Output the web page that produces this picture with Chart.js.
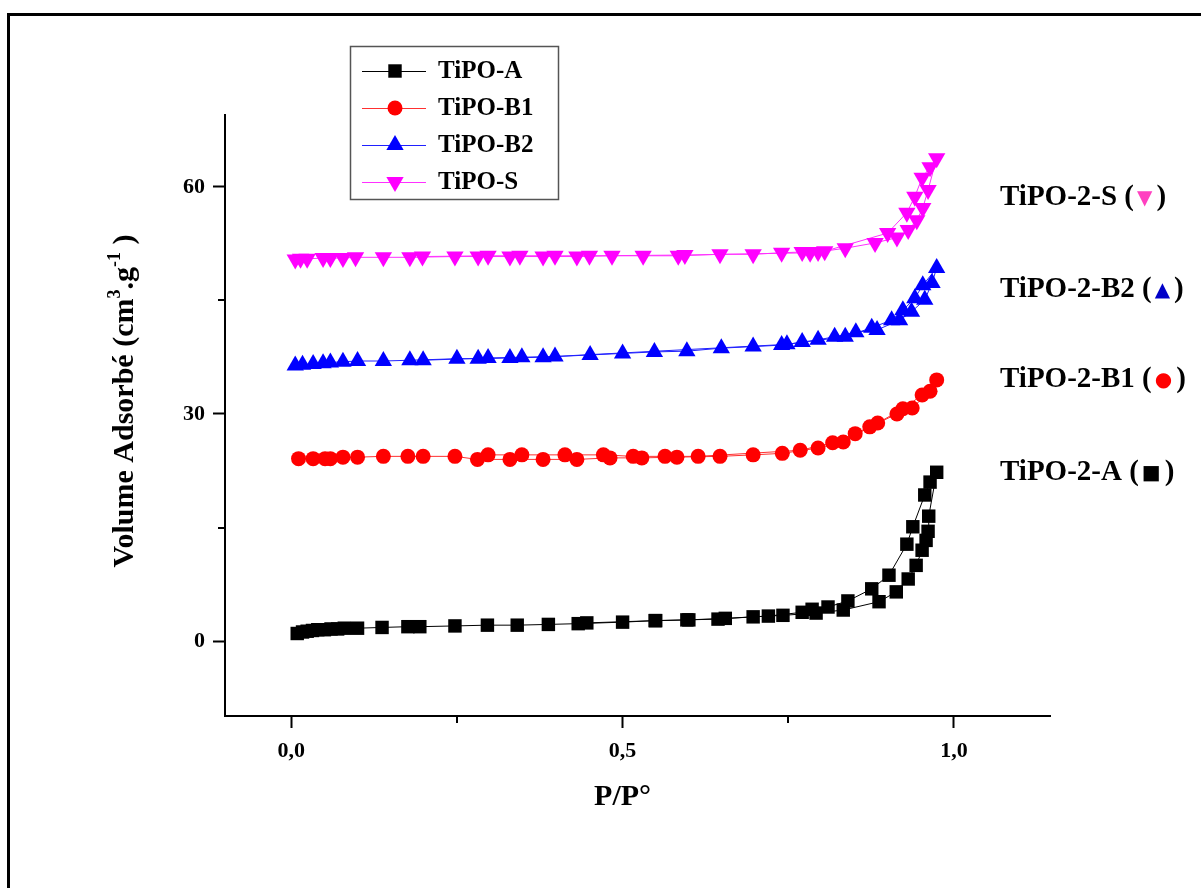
<!DOCTYPE html>
<html>
<head>
<meta charset="utf-8">
<script src="https://cdn.jsdelivr.net/npm/chart.js@4.4.1/dist/chart.umd.min.js"></script>
<style>
    html, body { margin: 0; padding: 0; background: #fff; }
    #wrap { width: 1201px; height: 888px; }
</style>
</head>
<body>
<div id="wrap"><canvas id="isoChart" width="1201" height="888"></canvas></div>
<script>
// Isotherm points, in measuring order (adsorption up, then desorption back)
const pA = [0.009, 0.017, 0.024, 0.032, 0.04, 0.05, 0.06, 0.07, 0.08, 0.1, 0.137, 0.176, 0.194, 0.247, 0.296, 0.341, 0.388, 0.433, 0.5, 0.549, 0.597, 0.644, 0.697, 0.742, 0.792, 0.833, 0.887, 0.913, 0.931, 0.943, 0.952, 0.958, 0.961, 0.962, 0.974,
            0.964, 0.956, 0.938, 0.929, 0.902, 0.876, 0.84, 0.81, 0.786, 0.771, 0.72, 0.655, 0.6, 0.55, 0.446];
const vA = [1.0, 1.2, 1.3, 1.4, 1.5, 1.5, 1.6, 1.6, 1.7, 1.7, 1.8, 1.9, 1.9, 2.0, 2.1, 2.1, 2.2, 2.3, 2.5, 2.7, 2.8, 2.9, 3.2, 3.4, 3.7, 4.1, 5.2, 6.5, 8.2, 10.0, 12.0, 13.3, 14.5, 16.5, 22.3,
            21.0, 19.3, 15.1, 12.8, 8.7, 6.9, 5.3, 4.5, 4.2, 3.8, 3.3, 3.0, 2.8, 2.7, 2.4];

const pB1 = [0.011, 0.033, 0.051, 0.059, 0.078, 0.1, 0.139, 0.176, 0.199, 0.247, 0.281, 0.33, 0.38, 0.431, 0.481, 0.529, 0.582, 0.647, 0.697, 0.741, 0.795, 0.833, 0.873, 0.914, 0.937, 0.964, 0.974,
             0.952, 0.923, 0.885, 0.851, 0.817, 0.768, 0.614, 0.564, 0.516, 0.471, 0.413, 0.348, 0.297];
const vB1 = [24.1, 24.1, 24.1, 24.1, 24.3, 24.3, 24.4, 24.4, 24.4, 24.4, 24.0, 24.0, 24.0, 24.0, 24.2, 24.2, 24.3, 24.4, 24.6, 24.8, 25.5, 26.3, 28.3, 30.0, 30.8, 33.0, 34.5,
             32.5, 30.7, 28.8, 27.4, 26.2, 25.2, 24.4, 24.4, 24.4, 24.6, 24.6, 24.6, 24.6];

const pB2 = [0.006, 0.017, 0.033, 0.048, 0.059, 0.078, 0.1, 0.139, 0.179, 0.25, 0.282, 0.33, 0.38, 0.451, 0.5, 0.548, 0.597, 0.649, 0.697, 0.74, 0.771, 0.795, 0.82, 0.852, 0.884, 0.918, 0.936, 0.956, 0.967, 0.974,
             0.953, 0.941, 0.923, 0.906, 0.876, 0.836, 0.748, 0.398, 0.348, 0.297, 0.199];
const vB2 = [36.4, 36.5, 36.6, 36.7, 36.8, 36.9, 37.0, 37.0, 37.1, 37.3, 37.3, 37.4, 37.5, 37.8, 38.0, 38.2, 38.3, 38.7, 38.9, 39.1, 39.5, 39.8, 40.2, 40.8, 41.1, 42.4, 43.5, 45.1, 47.3, 49.3,
             47.0, 45.3, 43.7, 42.4, 41.4, 40.2, 39.2, 37.6, 37.5, 37.4, 37.1];

const pS = [0.006, 0.014, 0.024, 0.048, 0.059, 0.078, 0.097, 0.139, 0.179, 0.247, 0.282, 0.33, 0.38, 0.431, 0.484, 0.531, 0.584, 0.647, 0.697, 0.74, 0.771, 0.795, 0.836, 0.881, 0.914, 0.931, 0.944, 0.953, 0.961, 0.974,
            0.964, 0.952, 0.941, 0.929, 0.9, 0.805, 0.783, 0.594, 0.45, 0.398, 0.345, 0.297, 0.198];
const vS = [50.4, 50.5, 50.5, 50.6, 50.6, 50.6, 50.7, 50.7, 50.7, 50.8, 50.8, 50.8, 50.8, 50.8, 50.9, 50.9, 50.9, 51.1, 51.1, 51.3, 51.4, 51.4, 51.9, 52.6, 53.3, 54.3, 55.6, 57.2, 59.6, 63.8,
            62.6, 61.2, 58.7, 56.6, 53.9, 51.5, 51.3, 51.0, 50.9, 50.9, 50.9, 50.9, 50.8];

const seriesNames = ['TiPO-A', 'TiPO-B1', 'TiPO-B2', 'TiPO-S'];
const sideLabels = ['TiPO-2-A', 'TiPO-2-B1', 'TiPO-2-B2', 'TiPO-2-S'];
const xTicks = [0, 0.25, 0.5, 0.75, 1.0];
const xLabelled = [0, 0.5, 1.0];
const yTicks = [0, 15, 30, 45, 60];
const yLabelled = [0, 30, 60];

const SERIF = '"Liberation Serif", "Times New Roman", serif';

function toPoints(xs, ys) {
    return xs.map((x, i) => ({ x: x, y: ys[i] }));
}

const styles = [
    { color: '#000000', line: '#000000', pointStyle: 'rect', radius: 9.5, rotation: 0 },
    { color: '#ff0000', line: '#ff3030', pointStyle: 'circle', radius: 7.5, rotation: 0 },
    { color: '#0000ff', line: '#2020ff', pointStyle: 'triangle', radius: 10, rotation: 0 },
    { color: '#ff00ff', line: '#ff30ff', pointStyle: 'triangle', radius: 10, rotation: 180 }
];

const allData = [toPoints(pA, vA), toPoints(pB1, vB1), toPoints(pB2, vB2), toPoints(pS, vS)];

const datasets = allData.map((pts, i) => ({
    label: seriesNames[i],
    data: pts,
    showLine: true,
    borderColor: styles[i].line,
    borderWidth: 1,
    backgroundColor: styles[i].color,
    pointBackgroundColor: styles[i].color,
    pointBorderColor: styles[i].color,
    pointBorderWidth: 0,
    pointStyle: styles[i].pointStyle,
    pointRadius: styles[i].radius,
    pointRotation: styles[i].rotation,
    tension: 0
}));

// Frame, minor ticks, titles, legend box and right-hand labels
const decorPlugin = {
    id: 'decor',
    afterDraw(chart) {
        const ctx = chart.ctx;
        const xs = chart.scales.x;
        const ys = chart.scales.y;
        const area = chart.chartArea;
        ctx.save();

        // outer frame
        ctx.fillStyle = '#000';
        ctx.fillRect(7, 13, 3, 888);
        ctx.fillRect(7, 13, 1201, 3);

        // minor ticks
        ctx.strokeStyle = '#000';
        ctx.lineWidth = 2;
        [15, 45].forEach(v => {
            const py = Math.round(ys.getPixelForValue(v));
            ctx.beginPath();
            ctx.moveTo(area.left - 7, py);
            ctx.lineTo(area.left, py);
            ctx.stroke();
        });
        [0.25, 0.75].forEach(v => {
            const px = Math.round(xs.getPixelForValue(v));
            ctx.beginPath();
            ctx.moveTo(px, area.bottom);
            ctx.lineTo(px, area.bottom + 7);
            ctx.stroke();
        });

        // x title
        ctx.fillStyle = '#000';
        ctx.font = 'bold 30px ' + SERIF;
        ctx.textAlign = 'center';
        ctx.textBaseline = 'middle';
        ctx.fillText('P/P\u00B0', xs.getPixelForValue(0.5), 797);

        // y title with superscripts
        const parts = [
            { t: 'Volume Adsorb\u00E9 (cm', size: 30, dy: 0 },
            { t: '3', size: 18, dy: -13 },
            { t: '.g', size: 30, dy: 0 },
            { t: '-1', size: 18, dy: -13 },
            { t: ' )', size: 30, dy: 0 }
        ];
        let total = 0;
        parts.forEach(p => {
            ctx.font = 'bold ' + p.size + 'px ' + SERIF;
            p.w = ctx.measureText(p.t).width;
            total += p.w;
        });
        ctx.translate(133, 401);
        ctx.rotate(-Math.PI / 2);
        ctx.textAlign = 'left';
        ctx.textBaseline = 'alphabetic';
        let cx = -total / 2;
        parts.forEach(p => {
            ctx.font = 'bold ' + p.size + 'px ' + SERIF;
            ctx.fillText(p.t, cx, p.dy);
            cx += p.w;
        });
        ctx.setTransform(1, 0, 0, 1, 0, 0);

        // legend box
        ctx.strokeStyle = '#555';
        ctx.lineWidth = 1.5;
        ctx.strokeRect(350.5, 46.5, 208, 153);
        const rowY = [71, 108, 145, 182];
        ctx.font = 'bold 25px ' + SERIF;
        ctx.textAlign = 'left';
        ctx.textBaseline = 'middle';
        seriesNames.forEach((name, i) => {
            const st = styles[i];
            ctx.strokeStyle = st.line;
            ctx.lineWidth = 1;
            ctx.beginPath();
            ctx.moveTo(362, rowY[i] + 0.5);
            ctx.lineTo(426, rowY[i] + 0.5);
            ctx.stroke();
            ctx.fillStyle = st.color;
            ctx.strokeStyle = st.color;
            Chart.helpers.drawPoint(ctx, {
                pointStyle: st.pointStyle,
                radius: st.radius,
                rotation: st.rotation,
                borderWidth: 0
            }, 395, rowY[i]);
            ctx.fillStyle = '#000';
            ctx.fillText(name, 438, rowY[i] + 1);
        });

        // labels on the right side
        const sideY = [473, 380, 290, 198];
        const symbols = ['\u25A0', '\u25CF', '\u25B2', '\u25BC'];
        const symColors = ['#000000', '#ff0000', '#0000c8', '#ff40c0'];
        sideLabels.forEach((lab, i) => {
            ctx.font = 'bold 29px ' + SERIF;
            ctx.textAlign = 'left';
            ctx.textBaseline = 'middle';
            ctx.fillStyle = '#000';
            let px = 1000;
            const head = lab + ' (';
            ctx.fillText(head, px, sideY[i]);
            px += ctx.measureText(head).width + 3;
            ctx.font = 'bold 20px "DejaVu Sans", sans-serif';
            ctx.fillStyle = symColors[i];
            ctx.fillText(symbols[i], px, sideY[i] + 1);
            px += ctx.measureText(symbols[i]).width + 4;
            ctx.font = 'bold 29px ' + SERIF;
            ctx.fillStyle = '#000';
            ctx.fillText(')', px, sideY[i]);
        });

        ctx.restore();
    }
};

const ctx = document.getElementById('isoChart').getContext('2d');
const isoChart = new Chart(ctx, {
    type: 'scatter',
    data: { datasets: datasets },
    options: {
        responsive: false,
        animation: false,
        devicePixelRatio: 1,
        layout: { padding: { left: 0, top: 115, right: 151, bottom: 0 } },
        plugins: {
            legend: { display: false },
            tooltip: { enabled: false },
            title: { display: false }
        },
        scales: {
            x: {
                type: 'linear',
                min: -0.1,
                max: 1.145,
                afterBuildTicks: scale => { scale.ticks = xTicks.map(v => ({ value: v })); },
                afterFit: scale => { scale.height = 172; },
                border: { display: true, color: '#000', width: 2 },
                grid: {
                    drawOnChartArea: false,
                    drawTicks: true,
                    tickLength: 12,
                    tickWidth: 2,
                    tickColor: c => (c.tick && xLabelled.includes(c.tick.value)) ? '#000' : 'rgba(0,0,0,0)'
                },
                ticks: {
                    color: '#000',
                    padding: 10,
                    maxRotation: 0,
                    autoSkip: false,
                    font: { family: SERIF, size: 22, weight: 'bold' },
                    callback: v => xLabelled.includes(v) ? v.toFixed(1).replace('.', ',') : ''
                }
            },
            y: {
                type: 'linear',
                min: -9.9,
                max: 69.5,
                afterBuildTicks: scale => { scale.ticks = yTicks.map(v => ({ value: v })); },
                afterFit: scale => { scale.width = 225; },
                border: { display: true, color: '#000', width: 2 },
                grid: {
                    drawOnChartArea: false,
                    drawTicks: true,
                    tickLength: 12,
                    tickWidth: 2,
                    tickColor: c => (c.tick && yLabelled.includes(c.tick.value)) ? '#000' : 'rgba(0,0,0,0)'
                },
                ticks: {
                    color: '#000',
                    padding: 8,
                    autoSkip: false,
                    font: { family: SERIF, size: 22, weight: 'bold' },
                    callback: v => yLabelled.includes(v) ? String(v) : ''
                }
            }
        }
    },
    plugins: [decorPlugin]
});
</script>
</body>
</html>
